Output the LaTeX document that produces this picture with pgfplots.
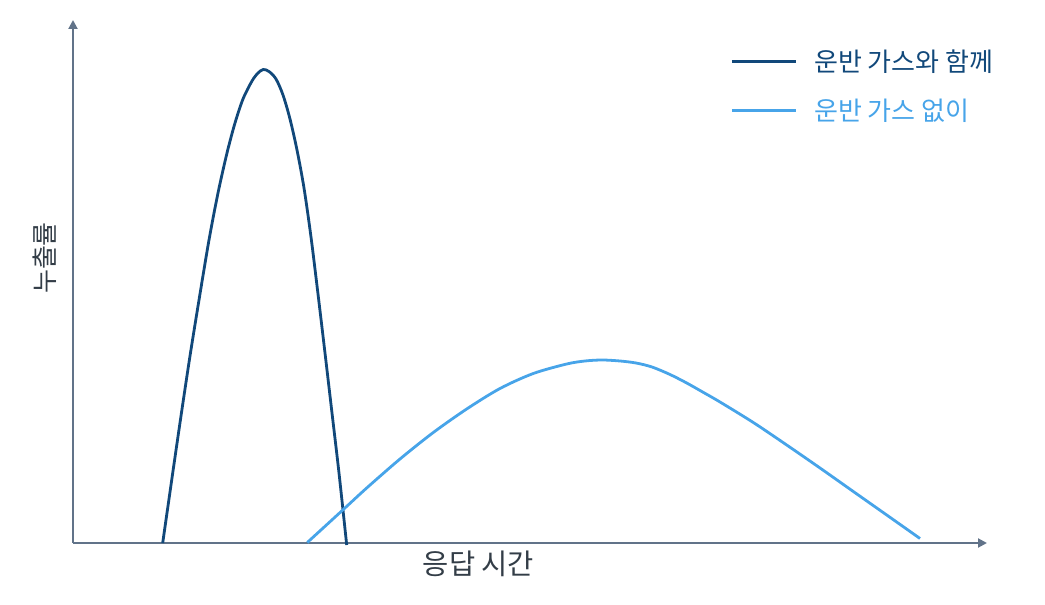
\documentclass[border=0pt]{standalone}
\usepackage{pgfplots}
\pgfplotsset{compat=1.18}
\usepackage{fontspec}
\setmainfont{Noto Sans CJK KR}
\usetikzlibrary{arrows.meta}
\definecolor{darkblue}{HTML}{11487A}
\definecolor{lightblue}{HTML}{47A4E9}
\definecolor{axisgray}{HTML}{617389}
\definecolor{labelgray}{HTML}{333D47}
\begin{document}
\begin{tikzpicture}
\begin{axis}[
  x=1pt, y=1pt,
  xmin=73, xmax=987, ymin=0, ymax=523,
  axis lines=left,
  axis line style={axisgray, line width=2pt, -{Triangle[length=9pt,width=9pt]}},
  xtick=\empty, ytick=\empty,
  clip=false,
  legend image code/.code={\draw[#1, line width=2.8pt] (0pt,0pt) -- (64pt,0pt);},
  legend style={draw=none, fill=none, at={(0.7158,0.947)}, anchor=north west,
    font=\fontsize{26}{30}\selectfont, column sep=17pt, row sep=26pt,
    nodes={inner sep=0pt}},
  legend cell align=left,
]
\addplot[darkblue, line width=2.8pt, smooth, tension=0.5] coordinates {
(162.7,0) (172,65) (181,127) (190,187) (199.5,246) (209,303) (218,350)
(227,390) (235,420) (243,444) (252,462) (258,470) (263.3,473.5)
(269,471.5) (276,464) (283,448) (290,424) (297,393) (304,355) (311,306)
(318,249) (325,190) (332,130) (339,70) (346.7,-2)
};
\addlegendentry{\textcolor{darkblue}{운반 가스와 함께}}
\addplot[lightblue, line width=2.8pt, smooth, tension=0.5] coordinates {
(307.3,0.5) (341.7,32) (366.7,55) (400,84) (433.3,110.5) (466.7,134) (500,154.5)
(533.3,169.5) (566.7,179) (585,182) (602,183) (620,182) (636,180) (652,176)
(670,168.5) (686.7,160) (703,150.8) (720,141)
(753.3,120.5) (786.7,98) (820,75) (853.3,51.5) (886.7,28) (920,4.5)
};
\addlegendentry{\textcolor{lightblue}{운반 가스 없이}}
\node[labelgray, font=\fontsize{26}{28}\selectfont, rotate=90] at (axis cs:45,285) {누출률};
\node[labelgray, font=\fontsize{28.5}{30}\selectfont] at (axis cs:478.5,-21) {응답 시간};
\path (axis cs:0,-62) rectangle (axis cs:1045,543);
\end{axis}
\end{tikzpicture}
\end{document}
